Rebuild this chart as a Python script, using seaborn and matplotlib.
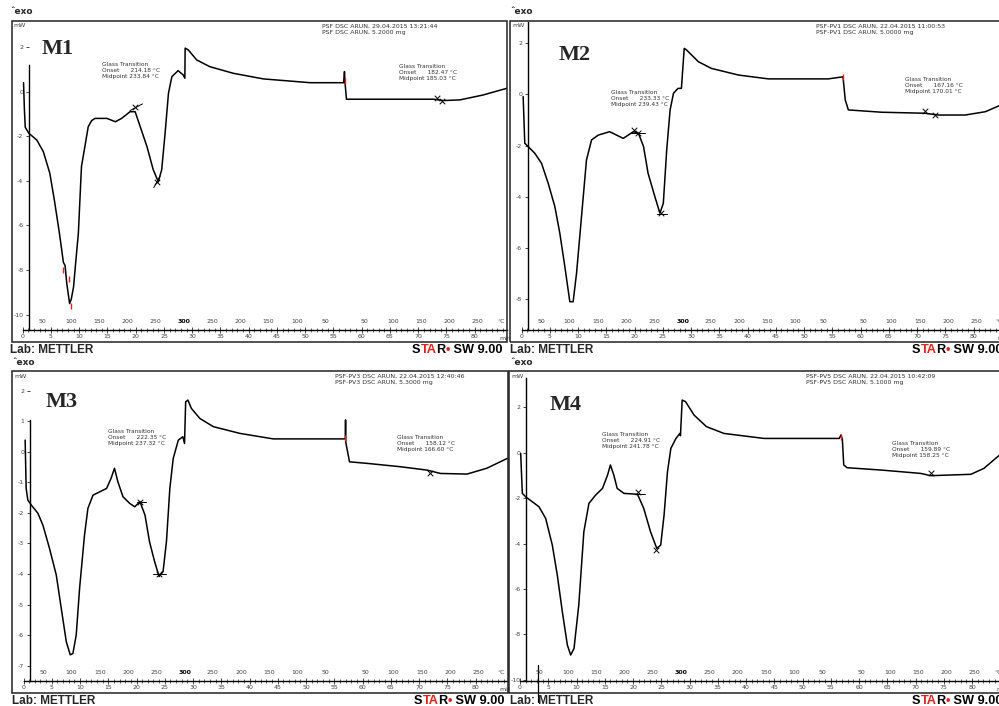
import numpy as np
import pandas as pd
import matplotlib
matplotlib.use('Agg')
import matplotlib.pyplot as plt
import seaborn as sns
from matplotlib.patches import Rectangle
from matplotlib.ticker import FixedLocator
from matplotlib.text import Annotation

sns.set_style('white')
plt.rcParams['font.family'] = ['DejaVu Sans']

###############################################################
# DSC curves (time in min, heat flow in mW)
m1_time = [0.15, 0.3, 0.45, 1.1, 2.5, 3.65, 4.8, 5.6, 6.5, 7.2, 7.5, 7.8, 8.3, 8.6, 9.0,
           9.4, 9.85, 10.4, 11.0, 11.6, 12.2, 12.8, 14.9, 16.4, 17.5, 19.0, 19.9, 20.8,
           22.0, 23.1, 24.0, 24.6, 25.2, 25.8, 26.4, 27.5, 28.4, 28.7, 28.75, 29.3, 30.8,
           33.1, 37.3, 42.6, 50.9, 56.8, 56.95, 57.05, 57.3, 72.7, 74.5, 77.4, 81.5, 85.7]
m1_mw = [0.4, -0.8, -1.6, -1.87, -2.17, -2.69, -3.66, -4.86, -6.35, -7.65, -7.8, -8.6, -9.5,
         -9.3, -8.75, -7.6, -6.35, -3.36, -2.47, -1.57, -1.3, -1.2, -1.2, -1.35, -1.2, -0.9,
         -0.9, -1.57, -2.47, -3.5, -4.04, -3.5, -1.87, -0.07, 0.67, 0.94, 0.75, 0.6, 1.95,
         1.87, 1.42, 1.12, 0.82, 0.57, 0.40, 0.40, 0.9, 0.4, -0.34, -0.34, -0.4, -0.37,
         -0.15, 0.15]

m2_time = [0.29, 0.58, 1.17, 2.35, 3.54, 4.72, 5.9, 6.78, 7.67, 8.55, 9.14, 9.74, 10.62,
           11.5, 12.4, 13.6, 15.6, 16.8, 18.0, 19.8, 20.7, 21.6, 22.4, 23.6, 24.5, 25.1,
           25.7, 26.3, 26.9, 27.7, 28.3, 28.8, 29.2, 31.3, 33.6, 38.4, 43.7, 54.3, 56.9,
           57.3, 57.85, 63.7, 71.4, 73.8, 78.5, 82.1, 84.4, 86.0]
m2_mw = [-0.09, -1.91, -2.04, -2.3, -2.69, -3.47, -4.38, -5.42, -6.72, -8.09, -8.09, -6.98,
         -4.77, -2.56, -1.78, -1.59, -1.46, -1.59, -1.72, -1.46, -1.52, -2.04, -3.08, -3.99,
         -4.64, -4.25, -2.17, -0.61, 0.04, 0.23, 0.23, 1.79, 1.73, 1.27, 1.01, 0.75, 0.6,
         0.6, 0.68, -0.22, -0.61, -0.7, -0.74, -0.81, -0.81, -0.68, -0.46, -0.3]

m3_time = [0.29, 0.47, 0.77, 1.36, 2.54, 3.43, 4.6, 5.8, 6.68, 7.57, 8.27, 8.74, 9.33, 9.93,
           10.8, 11.4, 12.3, 13.5, 14.7, 15.5, 16.1, 16.7, 17.6, 18.8, 19.7, 20.6, 21.5,
           22.3, 23.2, 24.0, 24.7, 25.3, 25.9, 26.5, 27.4, 28.2, 28.5, 28.7, 29.1, 29.7,
           31.2, 33.6, 38.3, 44.2, 56.95, 57.0, 57.05, 57.7, 60.8, 66.7, 71.4, 73.8, 78.5,
           82.0, 85.6]
m3_mw = [0.38, -1.2, -1.58, -1.74, -2.01, -2.4, -3.16, -4.03, -5.12, -6.21, -6.64, -6.6,
         -5.99, -4.46, -2.72, -1.85, -1.42, -1.31, -1.2, -0.87, -0.54, -0.98, -1.47, -1.69,
         -1.8, -1.63, -2.07, -2.94, -3.59, -4.08, -3.92, -2.94, -1.2, -0.22, 0.38, 0.49,
         0.27, 1.63, 1.69, 1.42, 1.09, 0.82, 0.6, 0.42, 0.42, 1.04, 0.3, -0.33, -0.38,
         -0.49, -0.6, -0.71, -0.73, -0.54, -0.22]

m4_time = [0.12, 0.41, 1.0, 2.18, 3.36, 4.54, 5.72, 6.6, 7.49, 8.38, 8.97, 9.56, 10.4, 11.3,
           12.2, 13.4, 14.6, 15.5, 16.0, 16.6, 17.2, 18.4, 20.8, 21.9, 23.1, 24.2, 24.9,
           25.5, 26.1, 26.7, 27.6, 28.3, 28.4, 28.7, 29.3, 30.8, 33.0, 36.1, 43.2, 56.5,
           56.8, 57.05, 57.3, 57.9, 63.8, 70.9, 72.7, 79.8, 82.1, 84.5, 86.0]
m4_mw = [-0.03, -1.79, -1.94, -2.16, -2.38, -2.89, -4.07, -5.39, -7.0, -8.47, -8.91, -8.62,
         -6.71, -3.48, -2.23, -1.86, -1.57, -0.98, -0.54, -0.98, -1.57, -1.79, -1.83, -2.45,
         -3.48, -4.21, -4.07, -2.74, -0.84, 0.19, 0.63, 0.85, 0.75, 2.32, 2.25, 1.66, 1.15,
         0.85, 0.63, 0.63, 0.78, 0.6, -0.54, -0.66, -0.76, -0.91, -1.01, -0.95, -0.69,
         -0.18, 0.1]

# glass transition evaluation points (crosses) and red limit marks
m1_gt_time, m1_gt_mw = [19.9, 23.7, 73.3, 74.3], [-0.67, -4.04, -0.30, -0.42]
m2_gt_time, m2_gt_mw = [19.95, 20.65, 24.7, 71.4, 73.2], [-1.39, -1.52, -4.64, -0.66, -0.81]
m3_gt_time, m3_gt_mw = [20.6, 24.0, 72.0], [-1.63, -4.0, -0.71]
m4_gt_time, m4_gt_mw = [20.8, 24.0, 72.8], [-1.72, -4.29, -0.91]

m1_red_time, m1_red_mw = [7.2, 8.2, 8.5, 57.0], [-8.0, -8.4, -9.6, 0.46]
m2_red_time, m2_red_mw = [56.85], [0.66]
m3_red_time, m3_red_mw = [56.9], [0.44]
m4_red_time, m4_red_mw = [56.8], [0.7]

# tangent segments: (t start, t end, mW start, mW end)
m1_tangents = [(19.0, 21.2, -0.85, -0.55), (23.2, 24.3, -4.3, -3.8)]
m2_tangents = [(19.2, 21.8, -1.52, -1.52), (23.9, 25.7, -4.68, -4.68)]
m3_tangents = [(20.0, 21.6, -1.63, -1.63), (22.9, 25.3, -4.0, -4.0)]
m4_tangents = [(20.4, 22.2, -1.83, -1.83)]

# temperature program labels along the time axis
temp_time = [3.5, 8.5, 13.5, 18.5, 23.5, 28.5, 33.5, 38.5, 43.5, 48.5, 53.5,
             60.5, 65.5, 70.5, 75.5, 80.5]
temp_labels = ['50', '100', '150', '200', '250', '300', '250', '200', '150', '100', '50',
               '50', '100', '150', '200', '250']
time_ticks = list(range(0, 85, 5))

headers = {
    'M1': 'PSF DSC ARUN, 29.04.2015 13:21:44\nPSF DSC ARUN, 5.2000 mg',
    'M2': 'PSF-PV1 DSC ARUN, 22.04.2015 11:00:53\nPSF-PV1 DSC ARUN, 5.0000 mg',
    'M3': 'PSF-PV3 DSC ARUN, 22.04.2015 12:40:46\nPSF-PV3 DSC ARUN, 5.3000 mg',
    'M4': 'PSF-PV5 DSC ARUN, 22.04.2015 10:42:09\nPSF-PV5 DSC ARUN, 5.1000 mg',
}
notes = {
    'M1': ['Glass Transition\nOnset      214.18 °C\nMidpoint 233.84 °C',
           'Glass Transition\nOnset      182.47 °C\nMidpoint 185.03 °C'],
    'M2': ['Glass Transition\nOnset      233.33 °C\nMidpoint 239.43 °C',
           'Glass Transition\nOnset      167.16 °C\nMidpoint 170.01 °C'],
    'M3': ['Glass Transition\nOnset      222.35 °C\nMidpoint 237.32 °C',
           'Glass Transition\nOnset      158.12 °C\nMidpoint 166.60 °C'],
    'M4': ['Glass Transition\nOnset      224.91 °C\nMidpoint 241.78 °C',
           'Glass Transition\nOnset      159.89 °C\nMidpoint 158.25 °C'],
}

###############################################################
# layout of the four panels
panels = [
    dict(name='M1', t=m1_time, y=m1_mw, gt=(m1_gt_time, m1_gt_mw), red=(m1_red_time, m1_red_mw),
         tan=m1_tangents, rect=[0.0117, 0.516, 0.496, 0.4547], ylim=(-11.21, 3.18),
         yticks=[-10, -8, -6, -4, -2, 0, 2], ytop=1.2, head_t=53.0,
         note_pos=[(14.0, 1.33), (66.6, 1.24)], label_pos=(0.061, 0.896)),
    dict(name='M2', t=m2_time, y=m2_mw, gt=(m2_gt_time, m2_gt_mw), red=(m2_red_time, m2_red_mw),
         tan=m2_tangents, rect=[0.511, 0.516, 0.496, 0.4547], ylim=(-9.65, 2.87),
         yticks=[-8, -6, -4, -2, 0, 2], ytop=2.8, head_t=52.2,
         note_pos=[(15.8, 0.17), (67.8, 0.69)], label_pos=(0.097, 0.877)),
    dict(name='M3', t=m3_time, y=m3_mw, gt=(m3_gt_time, m3_gt_mw), red=(m3_red_time, m3_red_mw),
         tan=m3_tangents, rect=[0.0125, 0.0188, 0.496, 0.4557], ylim=(-7.88, 2.64),
         yticks=[-7, -6, -5, -4, -3, -2, -1, 0, 1, 2], ytop=1.03, head_t=55.1,
         note_pos=[(14.95, 0.74), (66.1, 0.55)], label_pos=(0.066, 0.887)),
    dict(name='M4', t=m4_time, y=m4_mw, gt=(m4_gt_time, m4_gt_mw), red=(m4_red_time, m4_red_mw),
         tan=m4_tangents, rect=[0.5095, 0.0188, 0.496, 0.4557], ylim=(-10.57, 3.6),
         yticks=[-10, -8, -6, -4, -2, 0, 2], ytop=3.3, head_t=50.6,
         note_pos=[(14.6, 0.9), (65.9, 0.52)], label_pos=(0.081, 0.879)),
]

fig = plt.figure(figsize=(9.99, 7.06), dpi=100)
x_lo, x_hi = -1.95, 85.75
axis_frac = 0.036
small = 4.5
grey = '#444444'

for p in panels:
    ax = fig.add_axes(p['rect'])
    df = pd.DataFrame({'time': p['t'], 'mw': p['y']})
    sns.lineplot(data=df, x='time', y='mw', sort=False, estimator=None,
                 color='black', linewidth=1.1, ax=ax)
    ax.scatter(p['gt'][0], p['gt'][1], marker='x', s=16, color='black', linewidths=0.7, zorder=3)
    ax.scatter(p['red'][0], p['red'][1], marker='|', s=22, color='#e3221c', linewidths=1.0, zorder=4)
    for t0, t1, y0, y1 in p['tan']:
        ax.plot([t0, t1], [y0, y1], color='black', linewidth=0.7)

    ax.set_xlim(x_lo, x_hi)
    ax.set_ylim(*p['ylim'])
    ax.set_xlabel('')
    ax.set_ylabel('')
    ax.set_facecolor('white')

    # frame and the inner axis lines of the STARe plot
    ax.spines['top'].set_visible(False)
    ax.spines['right'].set_visible(False)
    ax.spines['left'].set_position(('data', 1.1))
    ax.spines['bottom'].set_position(('axes', axis_frac))
    y_axis = p['ylim'][0] + axis_frac * (p['ylim'][1] - p['ylim'][0])
    ax.spines['left'].set_bounds(y_axis, p['ytop'])
    ax.spines['bottom'].set_bounds(0, x_hi)
    for s in ['left', 'bottom']:
        ax.spines[s].set_linewidth(1.0)
        ax.spines[s].set_color('black')
    ax.add_patch(Rectangle((0, 0), 1, 1, transform=ax.transAxes, fill=False,
                           linewidth=1.1, edgecolor='#222222', clip_on=False, zorder=5))

    ax.set_yticks(p['yticks'])
    ax.set_yticklabels([str(v) for v in p['yticks']])
    ax.tick_params(axis='y', direction='out', length=2.5, width=0.6, labelsize=small,
                   pad=1.5, labelcolor=grey, left=True)
    ax.xaxis.set_major_locator(FixedLocator(time_ticks))
    ax.xaxis.set_minor_locator(FixedLocator(np.arange(0, 86, 1)))
    ax.set_xticklabels([str(v) for v in time_ticks])
    ax.tick_params(axis='x', which='major', direction='inout', length=4, width=0.6,
                   labelsize=small, pad=0.5, labelcolor=grey, bottom=True)
    ax.tick_params(axis='x', which='minor', direction='inout', length=2.5, width=0.5, bottom=True)
    ax.text(84.3, 0.0115, 'min', transform=ax.get_xaxis_transform(), ha='left',
            va='center', fontsize=small, color=grey)

    for i, (tt, lab) in enumerate(zip(temp_time, temp_labels)):
        ax.text(tt, 0.064, lab, transform=ax.get_xaxis_transform(), ha='center', va='center',
                fontsize=small, color='black' if i == 5 else grey,
                fontweight='bold' if i == 5 else 'normal')
    ax.text(84.6, 0.064, '°C', transform=ax.get_xaxis_transform(), ha='center',
            va='center', fontsize=small, color=grey)

    ax.text(0.004, 0.992, 'mW', transform=ax.transAxes, ha='left', va='top',
            fontsize=small, color=grey)
    ax.text(p['label_pos'][0], p['label_pos'][1], p['name'], transform=ax.transAxes,
            fontsize=16, fontweight='bold', family='Liberation Serif', va='baseline')
    ax.text(p['head_t'], 0.99, headers[p['name']], transform=ax.get_xaxis_transform(),
            ha='left', va='top', fontsize=small, color='#333333', linespacing=1.3)
    for (nt, ny), txt in zip(p['note_pos'], notes[p['name']]):
        ax.text(nt, ny, txt, ha='left', va='top', fontsize=4.2, color='#333333', linespacing=1.25)

    if p['name'] == 'M4':
        ax.axvline(3.1, ymin=-0.03, ymax=0.085, color='black', linewidth=0.9, clip_on=False)


###############################################################
# software captions around each panel
lab_font = dict(fontsize=8.5, fontweight='bold', family='Liberation Sans')
logo_font = dict(fontsize=9.2, fontweight='bold', family='Liberation Sans')


def star_logo(x, y):
    parts = [('S', 'black'), ('TA', '#e3221c'), ('R', 'black'), ('\u2022', '#e3221c'),
             (' SW 9.00', 'black')]
    prev = fig.text(x, y, parts[0][0], color=parts[0][1], va='center', ha='left', **logo_font)
    for s, c in parts[1:]:
        ann = Annotation(s, xy=(1, 0), xycoords=prev, va='bottom', ha='left', color=c,
                         **logo_font)
        fig.add_artist(ann)
        prev = ann


for x_px, y_exo, y_lab in [(10, 11.7, 350), (510, 11.7, 350), (12, 362.3, 701), (510, 362.3, 701)]:
    fig.text(x_px / 999, 1 - y_exo / 706, '\u02c6exo', fontsize=6.5, fontweight='bold',
             va='center', ha='left')
    fig.text(x_px / 999, 1 - y_lab / 706, 'Lab: METTLER', va='center', ha='left', **lab_font)
    star_logo((x_px + 402) / 999, 1 - y_lab / 706)

fig.savefig('out.png', dpi=100)
